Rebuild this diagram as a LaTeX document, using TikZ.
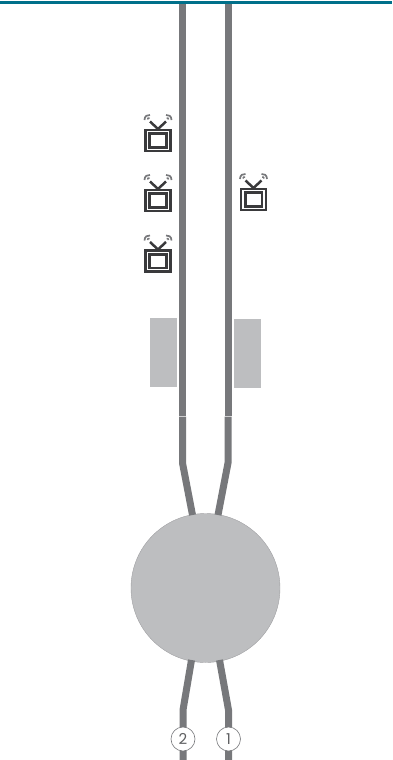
\documentclass[tikz,border=0pt]{standalone}
\usepackage{fontspec}
\setsansfont{Poppins}
\usetikzlibrary{positioning}
\definecolor{lineGrey}{HTML}{77787B}
\definecolor{boxGrey}{HTML}{BDBEC0}
\definecolor{tvDark}{HTML}{3A3A3C}
\definecolor{barTeal}{HTML}{00708A}
\tikzset{
  tvset/.pic={
    \draw[tvDark,line width=2.3pt] (-12.4,-10.4) rectangle (12.4,10.4);
    \draw[tvDark,line width=2.6pt] (-8.3,-6.8) rectangle (8.3,6.8);
    \draw[tvDark,line width=2.5pt] (-8,-19) -- (0,-11.5) -- (8,-19);
    \draw[lineGrey,line width=1.7pt] (-13.5,-20.5) .. controls (-13.5,-24.5) and (-10.5,-26) .. (-8,-25.5);
    \draw[lineGrey,line width=1.5pt] (-10.5,-21) .. controls (-10.5,-22.5) and (-9.5,-23) .. (-8.5,-22.5);
    \draw[lineGrey,line width=1.7pt] (13.5,-20.5) .. controls (13.5,-24.5) and (10.5,-26) .. (8,-25.5);
    \draw[lineGrey,line width=1.5pt] (10.5,-21) .. controls (10.5,-22.5) and (9.5,-23) .. (8.5,-22.5);
  }
}
\begin{document}
\begin{tikzpicture}[
  x=1pt,y=-1pt,
  track/.style={draw=lineGrey,line width=7pt},
  block/.style={fill=boxGrey,minimum width=27pt,minimum height=69pt,inner sep=0pt},
  port/.style={circle,draw=lineGrey,fill=white,line width=0.6pt,minimum size=24pt,inner sep=0pt,
    font=\sffamily\fontsize{15}{15}\selectfont,text=lineGrey!80!black}
]%
  \useasboundingbox (0,0) rectangle (392,760);

  \coordinate (barL) at (0,2.5);
  \coordinate (barR) at (392,2.5);
  \draw[barTeal,line width=3pt] (barL)--(barR);

  \node (hub) [circle,fill=boxGrey,draw=lineGrey!70,line width=0.4pt,minimum size=149pt,inner sep=0pt] at (205.5,588) {};
  \node (blockL) [block] at (163.5,352.5) {};
  \node (blockR) [block] at (247.5,353.5) {};

  % upper pair
  \coordinate (topL) at (182.5,4);
  \coordinate (seamL) at (182.5,415.5);
  \coordinate (seamLb) at (182.5,416.5);
  \coordinate (bendL) at (182.5,463);
  \coordinate (inL) at (192.5,515);
  \coordinate (topR) at (228,4);
  \coordinate (seamR) at (228,415.5);
  \coordinate (seamRb) at (228,416.5);
  \coordinate (bendR) at (228,463);
  \coordinate (inR) at (218,515);
  \draw[track] (topL)--(seamL);
  \draw[track] (seamLb)--(bendL)--(inL);
  \draw[track] (topR)--(seamR);
  \draw[track] (seamRb)--(bendR)--(inR);

  % lower pair
  \coordinate (outL) at (191.5,660);
  \coordinate (kneeL) at (183,710);
  \coordinate (endL) at (183,760);
  \coordinate (outR) at (219.5,660);
  \coordinate (kneeR) at (228.5,710);
  \coordinate (endR) at (228.5,760);
  \draw[track] (outL)--(kneeL)--(endL);
  \draw[track] (outR)--(kneeR)--(endR);

  \node (portB) [port] at (183,739) {2};
  \node (portA) [port] at (228.5,739) {1};

  \pic (tvA) at (158,140.5) {tvset};
  \pic (tvB) at (158,200.5) {tvset};
  \pic (tvC) at (158,261) {tvset};
  \pic (tvD) at (253.5,199.5) {tvset};
\end{tikzpicture}
\end{document}
